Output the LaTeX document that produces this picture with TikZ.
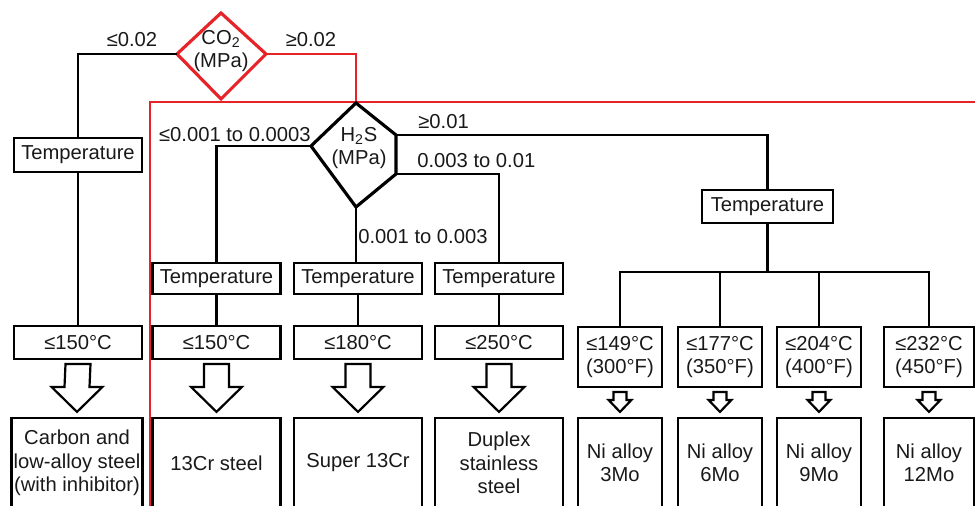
\documentclass[tikz,border=0pt]{standalone}
\usepackage{fontspec}
\setmainfont{Liberation Sans}
\usepackage{tikz}
\usetikzlibrary{calc}
\definecolor{flagred}{RGB}{230,35,40}
\newcommand{\figfont}{\fontsize{11.5pt}{13.4pt}\selectfont}
% hollow down arrow between two stacked boxes: from, to, half shaft, half head, head length
\newcommand{\hollowdown}[5]{%
  \draw[arr] ($(#1.south)+(-#3,4)$) -- ($(#2.north)+(-#3,-5-#5)$) -- ($(#2.north)+(-#4,-5-#5)$)
    -- ($(#2.north)+(0,-5)$) -- ($(#2.north)+(#4,-5-#5)$) -- ($(#2.north)+(#3,-5-#5)$)
    -- ($(#1.south)+(#3,4)$) -- cycle;}

\begin{document}
\begin{tikzpicture}[x=0.02cm,y=-0.02cm,
  every node/.style={font=\figfont,text=black!90,align=center},
  box/.style={draw,line width=1.25pt,inner sep=0pt},
  link/.style={line width=1.25pt},
  arr/.style={line width=1.25pt,fill=white,line join=miter},
  redlink/.style={flagred,line width=1.7pt}]
  \useasboundingbox (0,0) rectangle (975,506);
  \clip (0,0) rectangle (975,506);

  % CO2 decision
  \coordinate (co2t) at (221,13);
  \coordinate (co2r) at (266,54);
  \coordinate (co2b) at (221,99);
  \coordinate (co2l) at (177,54);
  \draw[flagred,line width=1.8pt,line join=miter] (co2t) -- (co2r) -- (co2b) -- (co2l) -- cycle;
  \node (co2) at (221,51) {CO\textsubscript{2}\\(MPa)};
  \node (lblLo) at (132,40) {≤0.02};
  \node (lblHi) at (311,40) {≥0.02};

  % red frame round the H2S branch
  \coordinate (frame) at (150,102);
  \draw[redlink] (150,520) -- (frame) -- (990,102);

  % H2S decision
  \coordinate (h2t) at (356,103);
  \coordinate (h2rt) at (396,135);
  \coordinate (h2rb) at (396,174);
  \coordinate (h2b) at (356,207);
  \coordinate (h2l) at (311,146);
  \draw[redlink] (co2r) -| (h2t);
  \draw[line width=1.8pt,line join=miter] (h2t) -- (h2rt) -- (h2rb) -- (h2b) -- (h2l) -- cycle;
  \node (h2s) at (359,148) {H\textsubscript{2}S\\(MPa)};

  % low CO2 column
  \node[box,minimum width=2.56cm,minimum height=0.68cm] (tmpA) at (78,155) {Temperature};
  \node[box,minimum width=2.56cm,minimum height=0.66cm] (limA) at (78,342.5) {≤150°C};
  \node[box,minimum width=2.62cm,minimum height=1.8cm] (matA) at (77,463) {Carbon and\\low-alloy steel\\(with inhibitor)};
  \draw[link] (co2l) -| (tmpA.north);
  \draw[link] (tmpA) -- (limA);
  \hollowdown{limA}{matA}{12.5}{25.5}{25}

  % steel columns
  \foreach \cname/\xpos/\tlim/\mtext in {B/216.5/150/13Cr steel, C/358/180/Super 13Cr, D/499/250/{Duplex\\stainless\\steel}} {
    \node[box,minimum width=2.56cm,minimum height=0.62cm] (tmp\cname) at (\xpos,278.5) {Temperature};
    \node[box,minimum width=2.56cm,minimum height=0.66cm] (lim\cname) at (\xpos,342.5) {≤\tlim°C};
    \node[box,minimum width=2.56cm,minimum height=1.8cm] (mat\cname) at (\xpos,463) {\mtext};
    \draw[link] (tmp\cname) -- (lim\cname);
    \hollowdown{lim\cname}{mat\cname}{12.5}{25.5}{25}
  }
  \draw[link] (h2l) -| (tmpB.north);
  \draw[link] (h2b) -- (h2b |- tmpC.north);
  \draw[link] (h2rb) -| (tmpD.north);
  \node[anchor=east,inner sep=0pt] (lblB) at (311,135) {≤0.001 to 0.0003};
  \node[anchor=west,inner sep=0pt] (lblC) at (358,237) {0.001 to 0.003};
  \node[anchor=west,inner sep=0pt] (lblD) at (417,161) {0.003 to 0.01};
  \node[anchor=west,inner sep=0pt] (lblE) at (418,122) {≥0.01};

  % Ni alloy columns
  \node[box,minimum width=2.62cm,minimum height=0.66cm] (tmpE) at (767.5,206.5) {Temperature};
  \draw[link] (h2rt) -| (tmpE.north);
  \coordinate (bus) at (767,272);
  \foreach \k/\xpos/\bw/\tc/\tf/\mo in {1/620/1.68/149/300/3, 2/720/1.68/177/350/6, 3/819/1.68/204/400/9, 4/929/1.8/232/450/12} {
    \node[box,minimum width=\bw cm,minimum height=1.2cm] (limE\k) at (\xpos,357) {≤\tc°C\\(\tf°F)};
    \node[box,minimum width=\bw cm,minimum height=1.8cm] (matE\k) at (\xpos,463) {Ni alloy\\\mo Mo};
    \draw[link] (tmpE.south) |- (limE\k.north |- bus) -- (limE\k.north);
    \hollowdown{limE\k}{matE\k}{6.5}{11.5}{12}
  }
\end{tikzpicture}
\end{document}
